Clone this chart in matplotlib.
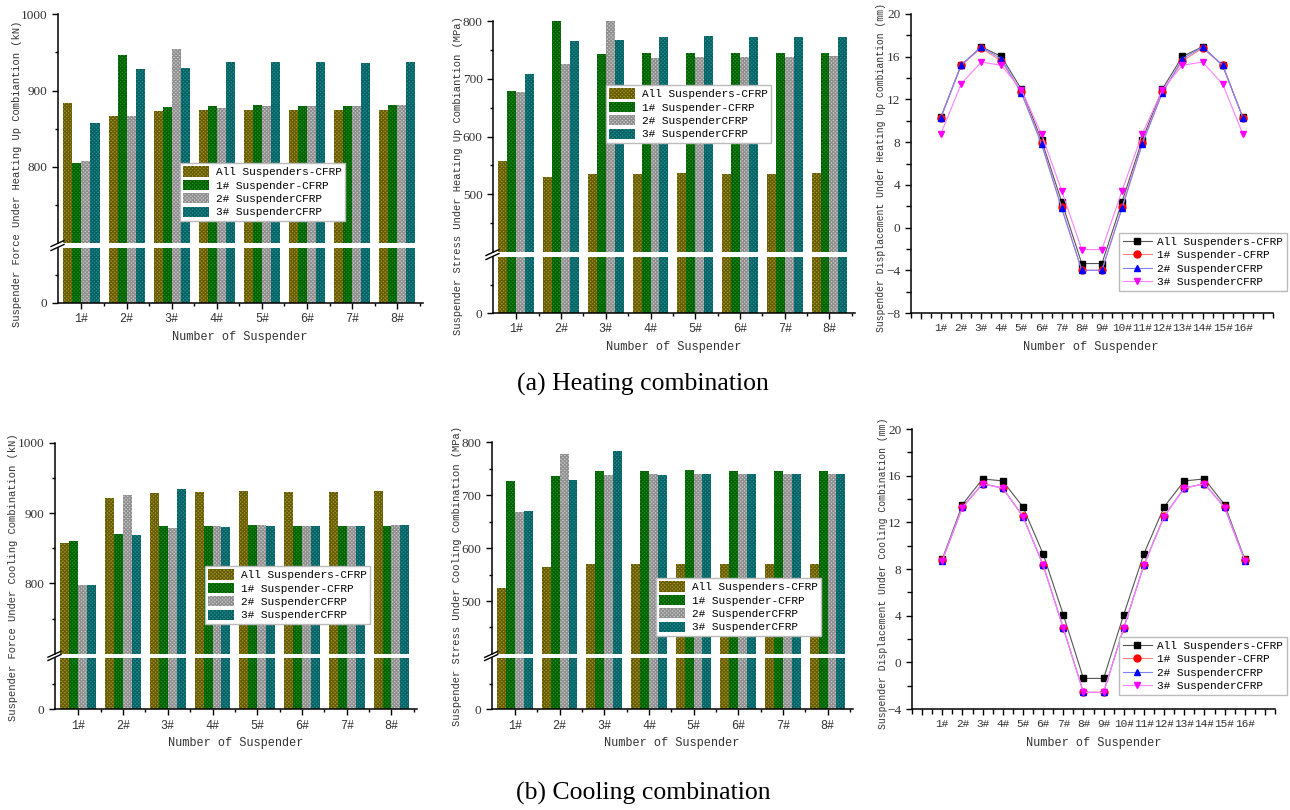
import matplotlib
matplotlib.use("Agg")
import matplotlib.pyplot as plt
import numpy as np
from matplotlib.lines import Line2D
from matplotlib.ticker import MultipleLocator, FixedLocator


# =========================
# DATA
# =========================

series_labels = [
    "All Suspenders-CFRP",
    "1# Suspender-CFRP",
    "2# SuspenderCFRP",
    "3# SuspenderCFRP"
]

bar_ticks = ["1#", "2#", "3#", "4#", "5#", "6#", "7#", "8#"]
disp_ticks = ["%d#" % i for i in range(1, 17)]

# heating - suspender force (kN)
heat_force_all = [883, 867, 873, 874, 874, 874, 874, 874]
heat_force_s1 = [805, 947, 878, 880, 881, 880, 880, 881]
heat_force_s2 = [807, 866, 954, 877, 880, 880, 880, 881]
heat_force_s3 = [858, 928, 929, 937, 938, 937, 936, 937]

# heating - suspender stress (MPa)
heat_stress_all = [557, 530, 535, 535, 536, 535, 535, 536]
heat_stress_s1 = [679, 800, 742, 744, 745, 745, 744, 745]
heat_stress_s2 = [677, 726, 800, 736, 738, 738, 738, 740]
heat_stress_s3 = [708, 766, 767, 773, 774, 773, 772, 773]

# heating - displacement (mm)
heat_disp_all = [10.33, 15.18, 16.93, 16.03, 12.96, 8.2, 2.42, -3.37,
                 -3.37, 2.42, 8.2, 12.96, 16.03, 16.93, 15.18, 10.33]
heat_disp_s1 = [10.3, 15.2, 16.8, 15.6, 12.7, 7.9, 1.9, -4.0,
                -4.0, 1.9, 7.9, 12.7, 15.6, 16.8, 15.2, 10.3]
heat_disp_s2 = [10.3, 15.2, 16.9, 15.8, 12.6, 7.8, 1.8, -4.0,
                -4.0, 1.8, 7.8, 12.6, 15.8, 16.9, 15.2, 10.3]
heat_disp_s3 = [8.77, 13.43, 15.5, 15.2, 12.9, 8.74, 3.45, -2.06,
                -2.06, 3.45, 8.74, 12.9, 15.2, 15.5, 13.43, 8.77]

# cooling - suspender force (kN)
cool_force_all = [858, 922, 929, 930, 931, 930, 930, 931]
cool_force_s1 = [860, 870, 881, 882, 883, 882, 881, 882]
cool_force_s2 = [797, 926, 879, 882, 883, 882, 882, 883]
cool_force_s3 = [798, 869, 934, 880, 882, 882, 882, 883]

# cooling - suspender stress (MPa)
cool_stress_all = [525, 564, 569, 569, 569, 569, 569, 569]
cool_stress_s1 = [726, 736, 745, 746, 747, 746, 746, 746]
cool_stress_s2 = [668, 777, 738, 740, 741, 741, 740, 741]
cool_stress_s3 = [670, 729, 784, 738, 741, 741, 740, 741]

# cooling - displacement (mm)
cool_disp_all = [8.84, 13.52, 15.72, 15.55, 13.32, 9.3, 4.1, -1.38,
                 -1.38, 4.1, 9.3, 13.32, 15.55, 15.72, 13.52, 8.84]
cool_disp_s1 = [8.75, 13.3, 15.32, 14.95, 12.52, 8.36, 2.96, -2.57,
                -2.57, 2.96, 8.36, 12.52, 14.95, 15.32, 13.3, 8.75]
cool_disp_s2 = [8.72, 13.28, 15.3, 14.93, 12.5, 8.34, 2.95, -2.58,
                -2.58, 2.95, 8.34, 12.5, 14.93, 15.3, 13.28, 8.72]
cool_disp_s3 = [8.7, 13.26, 15.3, 14.92, 12.5, 8.33, 2.94, -2.58,
                -2.58, 2.94, 8.33, 12.5, 14.92, 15.3, 13.26, 8.7]


# =========================
# STYLE
# =========================

W, H = 1290, 810

plt.rcParams["hatch.linewidth"] = 0.9

MONO = "Liberation Mono"
SERIF = "Liberation Serif"
TXT = "#333333"

bar_faces = ["#aa9c2c", "#169c16", "#d2d2d2", "#1c9898"]
bar_hatch = ["#675c06", "#065e06", "#8e8e8e", "#0a6062"]

line_colors = ["#555555", "#ff8080", "#8080ff", "#ff80ff"]
marker_colors = ["black", "red", "blue", "magenta"]
markers = ["s", "o", "^", "v"]


def box(left, top, right, bottom):
    return [left / W, 1 - bottom / H, (right - left) / W, (bottom - top) / H]


def style_ticks(ax, xsize=8.5):
    ax.tick_params(which="major", direction="out", length=4, width=1,
                   colors="black", labelcolor=TXT)
    ax.tick_params(which="minor", direction="out", length=2.5, width=1)
    for lab in ax.get_yticklabels():
        lab.set_fontfamily(SERIF)
        lab.set_fontsize(9.5)
    for lab in ax.get_xticklabels():
        lab.set_fontfamily(MONO)
        lab.set_fontsize(xsize)


fig = plt.figure(figsize=(12.9, 8.1), dpi=100)


def bar_panel(top_px, bot_px, series, upper, major, minor, leg_xy,
              ylabel, ylab_xy, ylab_size, xlab_xy):
    ax_t = fig.add_axes(box(*top_px))
    ax_b = fig.add_axes(box(*bot_px))
    x = np.arange(1, len(bar_ticks) + 1)
    width = 0.2
    handles = []
    for i, vals in enumerate(series):
        for ax in (ax_t, ax_b):
            b = ax.bar(x + (i - 1.5) * width, vals, width,
                       color=bar_faces[i], edgecolor=bar_hatch[i],
                       linewidth=0, hatch="x" * 9)
        handles.append(b)
    for ax in (ax_t, ax_b):
        ax.set_xlim(0.48, 8.57)
        for s in ("top", "right"):
            ax.spines[s].set_visible(False)
        ax.spines["left"].set_linewidth(1.1)
    ax_t.spines["bottom"].set_visible(False)
    ax_b.spines["bottom"].set_linewidth(1.1)

    ax_t.set_ylim(*upper)
    ax_t.yaxis.set_major_locator(FixedLocator(major))
    ax_t.yaxis.set_minor_locator(FixedLocator(minor))
    ax_t.set_xticks([])
    ax_t.tick_params(axis="x", which="both", bottom=False)

    ax_b.set_ylim(0, 100)
    ax_b.set_yticks([0])
    ax_b.yaxis.set_minor_locator(FixedLocator([50]))
    ax_b.set_xticks(x)
    ax_b.set_xticklabels(bar_ticks)
    ax_b.xaxis.set_minor_locator(FixedLocator(x + 0.5))
    style_ticks(ax_t)
    style_ticks(ax_b)

    # break marks on the y axis
    xl = top_px[0]
    for yy in (top_px[3] + 0.5, bot_px[1] - 0.5):
        fig.add_artist(Line2D([(xl - 7) / W, (xl + 6) / W],
                              [1 - (yy + 3) / H, 1 - (yy - 3) / H],
                              color="black", lw=1.0))

    fig.legend(handles, series_labels, loc="upper left",
               bbox_to_anchor=leg_xy, bbox_transform=fig.transFigure,
               prop={"family": MONO, "size": 8}, frameon=True,
               fancybox=False, edgecolor="#bbbbbb", framealpha=1,
               handlelength=2.3, handleheight=1.05, labelspacing=0.22,
               borderpad=0.3, handletextpad=0.6, borderaxespad=0)

    fig.text(ylab_xy[0] / W, 1 - ylab_xy[1] / H, ylabel, rotation=90,
             ha="center", va="center", family=MONO, size=ylab_size,
             color=TXT)
    fig.text(xlab_xy[0] / W, 1 - xlab_xy[1] / H, "Number of Suspender",
             ha="center", va="center", family=MONO, size=8.6, color=TXT)


def disp_panel(px, series, ylim, leg_xy, ylabel, ylab_xy, ylab_size,
               xlab_xy):
    ax = fig.add_axes(box(*px))
    x = np.arange(1, len(disp_ticks) + 1)
    lines = []
    for i, vals in enumerate(series):
        ln, = ax.plot(x, vals, color=line_colors[i], lw=0.8,
                      marker=markers[i], markersize=5,
                      markerfacecolor=marker_colors[i],
                      markeredgecolor=marker_colors[i])
        lines.append(ln)
    ax.set_xlim(-0.5, 17.5)
    ax.set_ylim(*ylim)
    ax.yaxis.set_major_locator(MultipleLocator(4))
    ax.yaxis.set_minor_locator(MultipleLocator(2))
    ax.set_xticks(np.arange(0, 18))
    ax.set_xticklabels([""] + disp_ticks + [""])
    ax.xaxis.set_minor_locator(FixedLocator(np.arange(-0.5, 17.6, 1.0)))
    for s in ("top", "right"):
        ax.spines[s].set_visible(False)
    ax.spines["left"].set_linewidth(1.1)
    ax.spines["bottom"].set_linewidth(1.1)
    style_ticks(ax, xsize=8)
    ax.tick_params(which="minor", length=3.5)
    fig.legend(lines, series_labels, loc="upper left",
               bbox_to_anchor=leg_xy, bbox_transform=fig.transFigure,
               prop={"family": MONO, "size": 8}, frameon=True,
               fancybox=False, edgecolor="#bbbbbb", framealpha=1,
               handlelength=2.6, labelspacing=0.3, borderpad=0.35,
               handletextpad=0.5, borderaxespad=0)
    fig.text(ylab_xy[0] / W, 1 - ylab_xy[1] / H, ylabel, rotation=90,
             ha="center", va="center", family=MONO, size=ylab_size,
             color=TXT)
    fig.text(xlab_xy[0] / W, 1 - xlab_xy[1] / H, "Number of Suspender",
             ha="center", va="center", family=MONO, size=8.6, color=TXT)


# =========================
# HEATING
# =========================

bar_panel((58, 14.3, 423, 243), (58, 248, 423, 302.7),
          [heat_force_all, heat_force_s1, heat_force_s2, heat_force_s3],
          (700, 1000), [800, 900, 1000], [750, 850, 950],
          (180 / W, 1 - 163 / H),
          "Suspender Force Under Heating Up Combiantion (kN)",
          (17, 174), 7.6, (240, 337))

bar_panel((493, 21, 855, 252), (493, 257, 855, 313),
          [heat_stress_all, heat_stress_s1, heat_stress_s2, heat_stress_s3],
          (400, 800), [500, 600, 700, 800], [450, 550, 650, 750],
          (606 / W, 1 - 85 / H),
          "Suspender Stress Under Heating Up Combiantion (MPa)",
          (458, 176), 7.6, (674, 347))

disp_panel((910.7, 14, 1273, 313),
           [heat_disp_all, heat_disp_s1, heat_disp_s2, heat_disp_s3],
           (-8, 20), (1119 / W, 1 - 233 / H),
           "Suspender Displacement Under Heating Up Combiantion (mm)",
           (881, 168), 7.0, (1091, 347))

# =========================
# COOLING
# =========================

bar_panel((55, 442.7, 417, 653.7), (55, 658, 417, 709.3),
          [cool_force_all, cool_force_s1, cool_force_s2, cool_force_s3],
          (700, 1000), [800, 900, 1000], [750, 850, 950],
          (205 / W, 1 - 566 / H),
          "Suspender Force Under Cooling Combination (kN)",
          (13, 577), 7.6, (236, 743))

bar_panel((491.7, 442.3, 853, 653.9), (491.7, 658, 853, 709.3),
          [cool_stress_all, cool_stress_s1, cool_stress_s2, cool_stress_s3],
          (400, 800), [500, 600, 700, 800], [450, 550, 650, 750],
          (656 / W, 1 - 578 / H),
          "Suspender Stress Under Cooling Combination (MPa)",
          (457, 576), 7.6, (672, 743))

disp_panel((912, 429, 1275, 709),
           [cool_disp_all, cool_disp_s1, cool_disp_s2, cool_disp_s3],
           (-4, 20), (1119 / W, 1 - 637 / H),
           "Suspender Displacement Under Cooling Combination (mm)",
           (883, 573), 7.0, (1094, 743))

# =========================
# CAPTIONS
# =========================

fig.text(643 / W, 1 - 384 / H, "(a) Heating combination", ha="center",
         va="center", family=SERIF, size=18.5, color="black")
fig.text(643 / W, 1 - 793 / H, "(b) Cooling combination", ha="center",
         va="center", family=SERIF, size=18.5, color="black")

plt.savefig("out.png", dpi=100)
